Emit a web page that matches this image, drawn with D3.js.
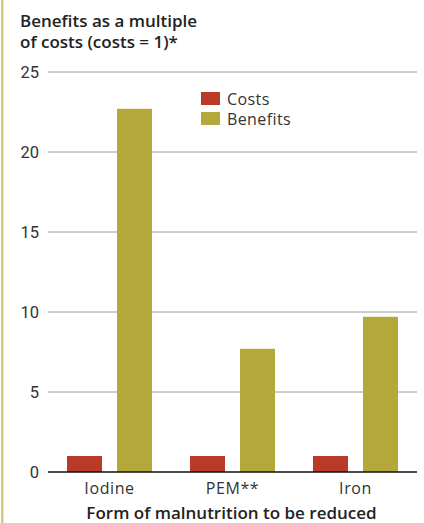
<!DOCTYPE html>
<html>
<head>
<meta charset="utf-8">
<script src="https://cdn.jsdelivr.net/npm/d3@7"></script>
<style>
  html, body { margin: 0; padding: 0; background: #fff; }
  svg { display: block; font-family: "Open Sans", "DejaVu Sans", sans-serif; }
</style>
</head>
<body>
<svg id="chart" width="424" height="523"></svg>
<script>
const categories = ["Iodine", "PEM**", "Iron"];
const seriesNames = ["Costs", "Benefits"];
const costs = [1, 1, 1];
const benefits = [22.7, 7.7, 9.7];
const yTicks = [0, 5, 10, 15, 20, 25];
const colors = ["#b93a27", "#b5a83a"];

const svg = d3.select("#chart");
const W = 424, H = 523;
const plotLeft = 48, plotRight = 417, plotTop = 72, plotBottom = 472;

// left accent rule
svg.append("rect").attr("x", 1).attr("y", 0).attr("width", 2.5).attr("height", H)
  .attr("fill", "#d9c97c");

const x = d3.scaleBand().domain(categories).range([plotLeft, plotRight]);
const y = d3.scaleLinear().domain([0, 25]).range([plotBottom, plotTop]);
const inner = d3.scaleBand().domain(seriesNames).range([0, 85]).paddingInner(0.3);

// value axis labels and gridlines
const yAxis = d3.axisLeft(y).tickValues(yTicks).tickSize(0).tickPadding(9);
const gy = svg.append("g").attr("transform", `translate(${plotLeft},0)`).call(yAxis);
gy.select(".domain").remove();
gy.selectAll("text").attr("font-size", 16.5).attr("fill", "#333").attr("font-family", "Roboto");
svg.append("g").selectAll("line").data(yTicks.filter(d => d > 0)).join("line")
  .attr("x1", plotLeft).attr("x2", plotRight)
  .attr("y1", d => y(d)).attr("y2", d => y(d))
  .attr("stroke", "#9a9a9a").attr("stroke-width", 1);

// bars
const rows = categories.map((c, i) => ({ c, vals: [costs[i], benefits[i]] }));
const groups = svg.append("g").selectAll("g").data(rows).join("g")
  .attr("transform", d => `translate(${x(d.c) + (x.bandwidth() - 85) / 2},0)`);
groups.selectAll("rect").data(d => d.vals.map((v, k) => ({ k, v }))).join("rect")
  .attr("x", d => inner(seriesNames[d.k]))
  .attr("width", inner.bandwidth())
  .attr("y", d => y(d.v))
  .attr("height", d => y(0) - y(d.v))
  .attr("fill", d => colors[d.k]);

// zero baseline
svg.append("line").attr("x1", plotLeft).attr("x2", plotRight)
  .attr("y1", y(0)).attr("y2", y(0)).attr("stroke", "#111").attr("stroke-width", 1.5);

// category axis
const xAxis = d3.axisBottom(x).tickSize(0).tickPadding(11);
const gx = svg.append("g").attr("transform", `translate(0,${plotBottom})`).call(xAxis);
gx.select(".domain").remove();
gx.selectAll("text").attr("font-size", 16).attr("fill", "#333")
  .attr("font-family", "Open Sans").attr("letter-spacing", 0.6);

svg.append("text").attr("x", (plotLeft + plotRight) / 2 - 1).attr("y", 519)
  .attr("text-anchor", "middle").attr("font-size", 17).attr("font-weight", 600)
  .attr("fill", "#222").text("Form of malnutrition to be reduced");

// title
const title = svg.append("text").attr("font-size", 17)
  .attr("font-weight", 600).attr("fill", "#222");
title.append("tspan").attr("x", 20).attr("y", 27).text("Benefits as a multiple");
title.append("tspan").attr("x", 20).attr("y", 48).text("of costs (costs = 1)*");

// legend
const lg = svg.append("g").attr("transform", "translate(201,92)");
const items = lg.selectAll("g").data(seriesNames).join("g")
  .attr("transform", (d, i) => `translate(0,${i * 20})`);
items.append("rect").attr("width", 19).attr("height", 13).attr("fill", (d, i) => colors[i]);
items.append("text").attr("x", 26).attr("y", 12.5).attr("font-size", 16)
  .attr("letter-spacing", 0.4).attr("fill", "#333").text(d => d);
</script>
</body>
</html>
